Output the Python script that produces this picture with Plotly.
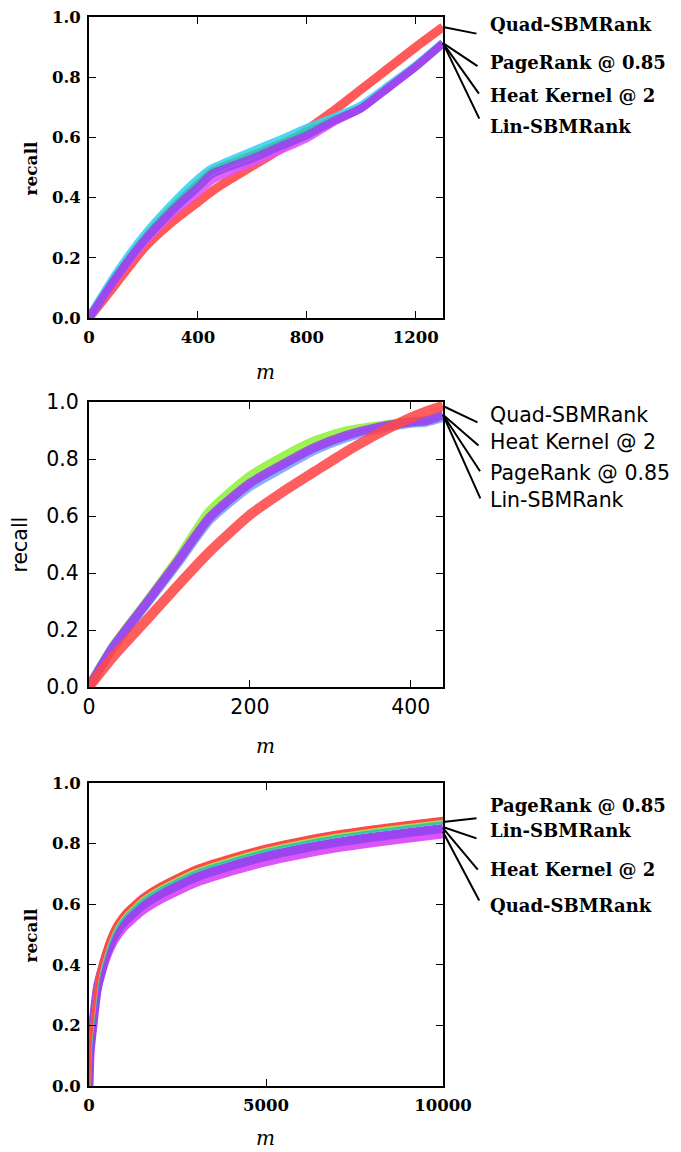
import plotly.graph_objects as go

W, H = 681, 1152

# ---------------- data ----------------
# Panel 1 (m from 0 to 1300)
p1_m = [0, 100, 200, 300, 400, 450, 500, 600, 700, 800, 900, 1000, 1100, 1200, 1300]
p1_quad = [0, .115, .23, .315, .385, .42, .45, .505, .56, .625, .69, .76, .83, .90, .967]
p1_pagerank = [0, .145, .27, .372, .46, .495, .515, .553, .59, .63, .665, .705, .77, .837, .913]
p1_heat = [0, .14, .262, .362, .448, .488, .508, .543, .58, .62, .66, .70, .767, .836, .913]
p1_lin_low = [0, .13, .245, .34, .415, .455, .478, .515, .555, .595, .65, .695, .765, .835, .913]
p1_lin = [0, .135, .255, .352, .435, .478, .497, .53, .57, .607, .655, .697, .765, .835, .913]

# Panel 2 (m from 0 to 440)
p2_m = [0, 30, 70, 110, 150, 200, 240, 280, 320, 360, 400, 420, 440]
p2_quad = [0, .106, .23, .355, .475, .604, .683, .755, .826, .89, .945, .968, .986]
p2_heat = [0, .141, .29, .445, .615, .738, .805, .862, .897, .915, .93, .935, .955]
p2_pagerank = [0, .138, .285, .432, .585, .703, .768, .83, .875, .905, .925, .93, .945]
p2_lin = [0, .141, .29, .44, .595, .715, .78, .84, .883, .912, .93, .935, .955]

# Panel 3 (m from 0 to 10000)
p3_m = [0, 30, 100, 250, 500, 750, 1000, 1500, 2000, 3000, 4000, 5000, 6000, 7000, 8000, 9000, 10000]
p3_quad_low = [0, .095, .17, .31, .414, .479, .519, .572, .609, .665, .703, .735, .760, .781, .798, .813, .827]
p3_heat = [0, .11, .19, .332, .437, .502, .542, .595, .632, .688, .726, .758, .783, .804, .821, .836, .850]
p3_lin = [0, .12, .207, .353, .458, .523, .563, .616, .653, .709, .747, .779, .804, .825, .842, .857, .871]
p3_pagerank_low = [0, .125, .214, .361, .466, .531, .571, .624, .661, .717, .755, .787, .812, .833, .850, .865, .879]
p3_pagerank = [0, .13, .22, .366, .471, .536, .576, .629, .666, .722, .760, .792, .817, .838, .855, .870, .884]

# Labels and the recall values their leader lines point to
p1_labels = ["Quad-SBMRank", "PageRank @ 0.85", "Heat Kernel @ 2", "Lin-SBMRank"]
p1_label_end = [.967, .913, .913, .913]
p2_labels = ["Quad-SBMRank", "Heat Kernel @ 2", "PageRank @ 0.85", "Lin-SBMRank"]
p2_label_end = [.986, .955, .955, .955]
p3_labels = ["PageRank @ 0.85", "Lin-SBMRank", "Heat Kernel @ 2", "Quad-SBMRank"]
p3_label_end = [.871, .855, .851, .838]

y_ticks = [0, 0.2, 0.4, 0.6, 0.8, 1.0]
p1_xticks = [0, 400, 800, 1200]
p2_xticks = [0, 200, 400]
p3_xticks = [0, 5000, 10000]

# ---------------- styles ----------------
RED = "#ff4848"
CYAN = "#3ed2f2"
TEAL = "#36c6a6"
PURPLE = "#9b44f0"
MAGENTA = "#dc55fa"
GREEN = "#92f240"
LBLUE = "#7aa8ff"
YG = "#b4d84a"

SERIF = "DejaVu Serif"
SANS = "DejaVu Sans"

fig = go.Figure()

def add(x, y, color, width, xa, ya, name, op=0.9):
    fig.add_trace(go.Scatter(x=x, y=y, mode="lines", name=name,
                             line=dict(color=color, width=width, shape="spline", smoothing=0.6),
                             opacity=op, xaxis=xa, yaxis=ya, showlegend=False))

# panel 1
add(p1_m, p1_quad, RED, 9, "x", "y", "Quad-SBMRank")
add(p1_m, p1_pagerank, CYAN, 9, "x", "y", "PageRank @ 0.85")
add(p1_m, p1_heat, TEAL, 7, "x", "y", "Heat Kernel @ 2")
add(p1_m, p1_lin_low, MAGENTA, 7, "x", "y", "Lin-SBMRank (low)")
add(p1_m, p1_lin, PURPLE, 8, "x", "y", "Lin-SBMRank")

# panel 2
add(p2_m, p2_heat, GREEN, 10, "x2", "y2", "Heat Kernel @ 2")
add(p2_m, p2_pagerank, LBLUE, 9, "x2", "y2", "PageRank @ 0.85")
add(p2_m, p2_lin, PURPLE, 9, "x2", "y2", "Lin-SBMRank")
add(p2_m, p2_quad, RED, 10, "x2", "y2", "Quad-SBMRank", 0.88)

# panel 3
add(p3_m, p3_quad_low, MAGENTA, 6, "x3", "y3", "Quad-SBMRank", 1)
add(p3_m, p3_heat, PURPLE, 9, "x3", "y3", "Heat Kernel @ 2", 1)
add(p3_m, p3_lin, TEAL, 4, "x3", "y3", "Lin-SBMRank", 1)
add(p3_m, p3_pagerank_low, YG, 3, "x3", "y3", "PageRank @ 0.85 (low)", 1)
add(p3_m, p3_pagerank, RED, 3, "x3", "y3", "PageRank @ 0.85", 1)

# ---------------- axes ----------------
xl, xr = 89 / W, 443 / W
def ydom(top, bot):
    return [1 - bot / H, 1 - top / H]

def axstyle(font, bold, size):
    return dict(showline=True, linecolor="black", linewidth=2, mirror="ticks",
                ticks="inside", ticklen=7, tickwidth=1.3, tickcolor="black",
                showgrid=False, zeroline=False, automargin=False,
                tickfont=dict(family=font, size=size, color="black",
                              weight="bold" if bold else "normal"))

layout = dict(width=W, height=H, margin=dict(l=0, r=0, t=0, b=0, autoexpand=False),
              plot_bgcolor="white", paper_bgcolor="white", showlegend=False)

panels = [
    ("", [0, 1300], p1_xticks, ydom(17, 318), SERIF, True, 16.5, 3, 3),
    ("2", [0, 440], p2_xticks, ydom(402, 687), SANS, False, 20.5, 0, 4),
    ("3", [0, 10000], p3_xticks, ydom(783, 1086), SERIF, True, 16.5, 3, 3),
]
for sfx, xr_, xt, yd, font, bold, size, xso, yso in panels:
    xa = axstyle(font, bold, size)
    xa.update(domain=[xl, xr], range=xr_, tickvals=xt, ticktext=[str(v) for v in xt],
              anchor="y" + sfx, ticklabelstandoff=xso)
    ya = axstyle(font, bold, size)
    ya.update(domain=yd, range=[0, 1], tickvals=y_ticks,
              ticktext=["%.1f" % v for v in y_ticks], anchor="x" + sfx,
              ticklabelstandoff=yso)
    layout["xaxis" + sfx] = xa
    layout["yaxis" + sfx] = ya

fig.update_layout(**layout)

# ---------------- annotations ----------------
ann = []

def axis_titles(sfx, font, bold, size, xshift, myshift):
    xd = "x" + sfx + " domain"
    yd = "y" + sfx + " domain"
    ann.append(dict(text="<b>recall</b>" if bold else "recall", xref=xd, yref=yd, x=0, y=0.5,
                    xanchor="center", yanchor="middle",
                    xshift=xshift, textangle=-90, showarrow=False,
                    font=dict(family=font, size=size, color="black")))
    ann.append(dict(text="<i>m</i>", xref=xd, yref=yd, x=0.5, y=0, yshift=myshift,
                    xanchor="center", yanchor="middle",
                    showarrow=False, font=dict(family=SERIF, size=20, color="black")))

axis_titles("", SERIF, True, 17, -59, -54)
axis_titles("2", SANS, False, 20.5, -69, -59)
axis_titles("3", SERIF, True, 17, -59, -52)

def labels(sfx, xend, names, ends, arrows, yshifts, font, bold, size):
    for name, yv, (ax, ay), ys in zip(names, ends, arrows, yshifts):
        ann.append(dict(x=xend, y=yv, xref="x" + sfx, yref="y" + sfx, text="",
                        showarrow=True, arrowhead=0, arrowwidth=2, arrowcolor="black",
                        ax=ax, ay=ay, axref="pixel", ayref="pixel", standoff=0,
                        startstandoff=0))
        ann.append(dict(x=xend, y=yv, xref="x" + sfx, yref="y" + sfx,
                        text="<b>%s</b>" % name if bold else name,
                        showarrow=False, xanchor="left", yanchor="middle",
                        xshift=45, yshift=ys,
                        font=dict(family=font, size=size, color="black")))

labels("", 1300, p1_labels, p1_label_end,
       [(35, 7), (36, 24), (37, 52), (37, 77)], [2, -19, -52, -83], SERIF, True, 18)
labels("2", 440, p2_labels, p2_label_end,
       [(36, 17), (37, 32), (38, 58), (38, 85)], [-9, -27, -58, -85], SANS, False, 20.5)
labels("3", 10000, p3_labels, p3_label_end,
       [(35, -4), (35, 12), (36, 43), (37, 70)], [17, -4, -41, -73], SERIF, True, 18)

fig.update_layout(annotations=ann)
fig.write_html("out.html")
